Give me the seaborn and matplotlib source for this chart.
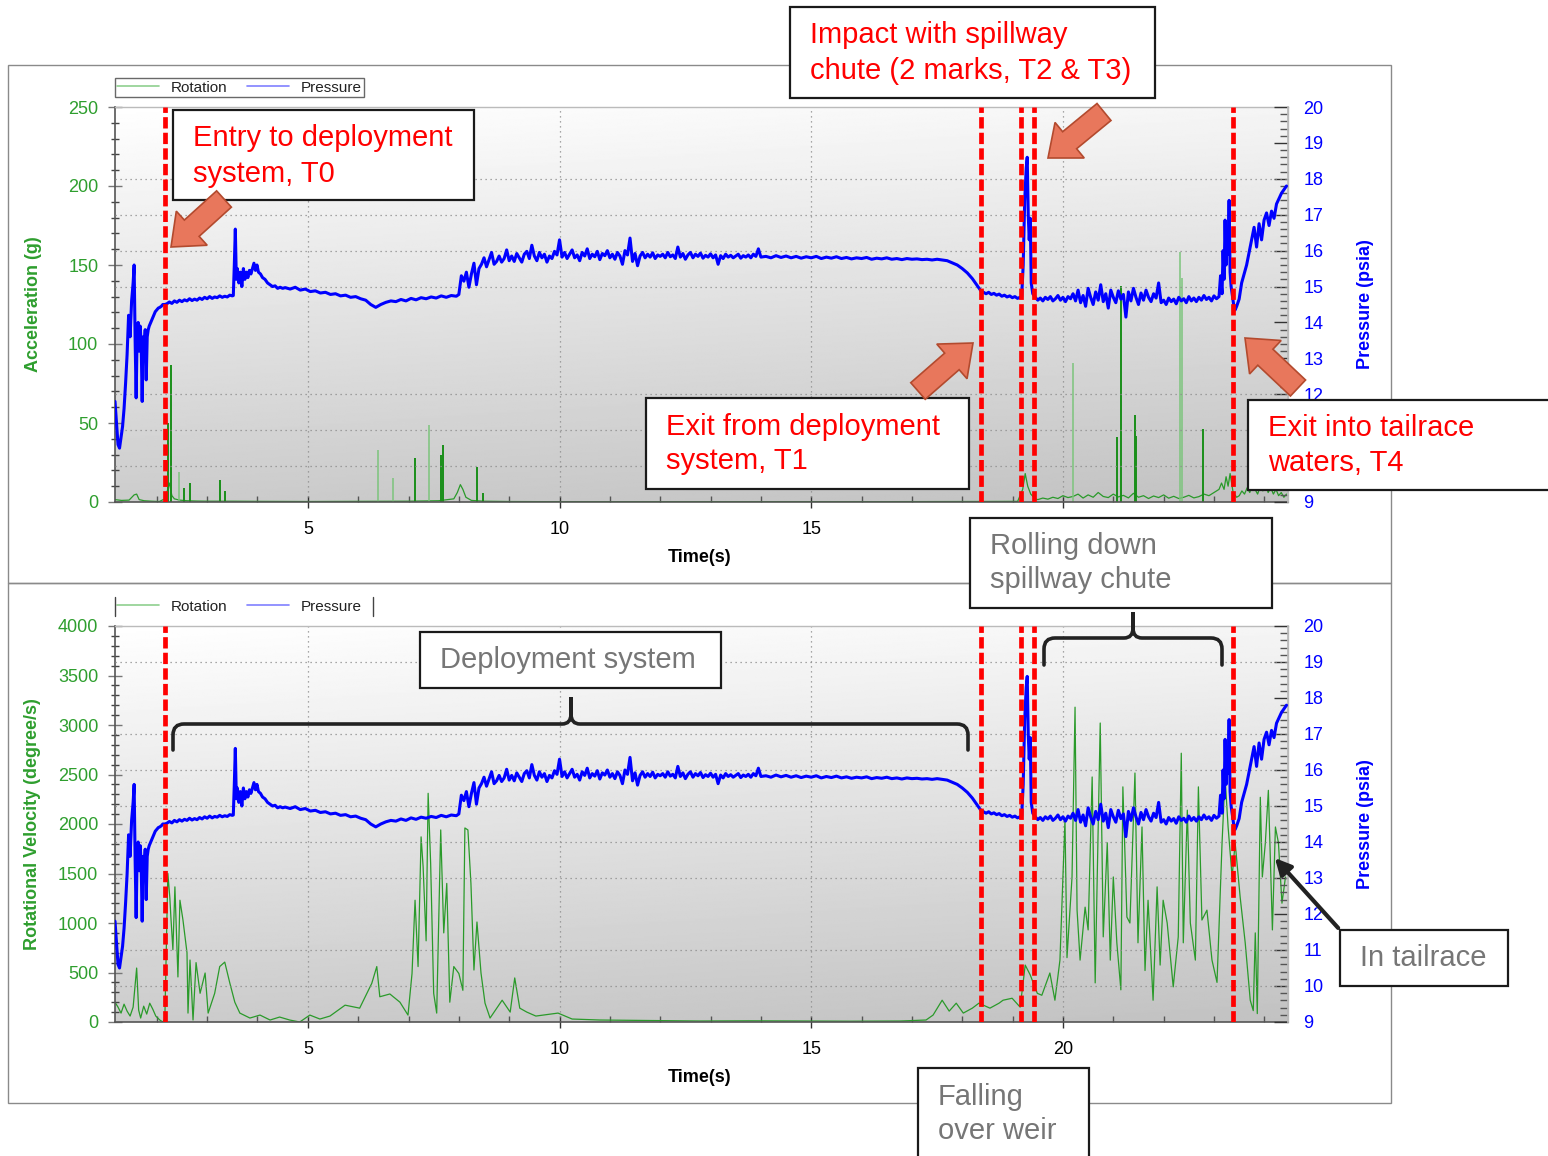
import numpy as np
import matplotlib
matplotlib.use('Agg')
import matplotlib.pyplot as plt
import seaborn as sns
from matplotlib.patches import Rectangle, FancyArrow, FancyArrowPatch, PathPatch
from matplotlib.path import Path
from matplotlib.lines import Line2D
from matplotlib.transforms import Affine2D
from matplotlib.ticker import MultipleLocator

W, H = 1548, 1156

# event marks T0, T1, T2, T3, T4 (s)
event_times = [2.16, 18.37, 19.17, 19.43, 23.37]
time_ticks = [5, 10, 15, 20]
time_range = (1.17, 24.47)

# ---- pressure (psia), shared by both panels ----
press_t_start = [1.17, 1.20, 1.23, 1.26, 1.29, 1.32, 1.35, 1.38, 1.41, 1.44, 1.47, 1.50,
                 1.53, 1.55, 1.57, 1.59, 1.61, 1.63, 1.65, 1.67, 1.69, 1.71, 1.73, 1.75,
                 1.77, 1.79, 1.81, 1.83, 1.85, 1.88, 1.91, 1.94, 1.97, 2.00, 2.03, 2.06,
                 2.09, 2.12, 2.16]
press_start = [11.8, 11.2, 10.6, 10.5, 10.8, 11.1, 11.6, 12.3, 13.1, 14.2, 13.6, 14.6,
               15.1, 15.6, 13.5, 11.9, 13.7, 14.0, 13.2, 13.9, 13.4, 11.8, 13.6, 13.3,
               13.8, 12.4, 13.6, 13.8, 13.9, 14.0, 14.1, 14.2, 14.3, 14.35, 14.4, 14.42,
               14.45, 14.5, 14.5]
press_flat1 = [14.52, 14.57, 14.53, 14.6, 14.56, 14.62, 14.58, 14.63, 14.6, 14.66, 14.61,
               14.65, 14.62, 14.68, 14.64, 14.7, 14.66, 14.72, 14.67, 14.71, 14.69, 14.74,
               14.7, 14.73, 14.71, 14.76, 14.74]
press_t_bump = [3.52, 3.54, 3.56, 3.58, 3.60, 3.63, 3.66, 3.69, 3.72, 3.75, 3.78, 3.81,
                3.84, 3.87, 3.90, 3.93, 3.96, 3.99, 4.02, 4.06, 4.10, 4.15, 4.20, 4.25,
                4.30, 4.35, 4.40, 4.45, 4.50]
press_bump = [14.75, 15.6, 16.6, 15.2, 15.5, 15.1, 15.4, 15.0, 15.5, 15.2, 15.4, 15.25,
              15.45, 15.35, 15.5, 15.65, 15.45, 15.6, 15.4, 15.35, 15.25, 15.2, 15.1, 15.05,
              15.0, 15.02, 14.95, 14.98, 14.95]
press_flat2 = [14.97, 14.93, 14.98, 14.9, 14.93, 14.86, 14.88, 14.82, 14.84, 14.78, 14.8,
               14.74, 14.76, 14.7, 14.72, 14.66, 14.62, 14.5, 14.42, 14.5, 14.56, 14.6,
               14.58, 14.64, 14.6, 14.67, 14.63, 14.69, 14.66, 14.71, 14.68, 14.74, 14.7,
               14.75, 14.73]
press_rise = [14.78, 15.30, 15.15, 15.40, 14.98, 15.35, 15.65, 15.05, 15.50, 15.62, 15.80,
              15.55, 15.75, 15.95, 15.62, 15.70, 15.85, 15.68, 15.78, 16.02, 15.72, 15.85,
              15.70, 15.92, 15.80, 15.68, 15.90, 15.98, 15.78, 16.15, 15.85, 15.72, 15.95,
              15.80, 15.90, 15.68, 15.85, 15.78, 15.98, 15.88, 16.30]
press_noisy = [15.82, 15.95, 15.78, 15.9, 16.02, 15.8, 15.88, 15.72, 15.95, 15.85, 16.05,
               15.78, 15.9, 15.83, 15.98, 15.75, 15.92, 15.86, 16.0, 15.8,
               15.9, 15.76, 15.95, 15.85, 15.62, 16.0, 15.88, 16.35, 15.7, 15.92, 15.58,
               15.85, 15.95, 15.8, 15.9, 15.82, 15.94, 15.78, 15.88, 15.84,
               15.9, 15.8, 15.95, 15.83, 15.88, 15.78, 16.1, 15.82, 15.92, 15.76, 15.88,
               15.95, 15.8, 15.9, 15.84, 15.93, 15.79, 15.87, 15.82, 15.91,
               15.8, 15.88, 15.62, 15.86, 15.78, 15.9, 15.82, 15.87, 15.8, 15.85, 15.9,
               15.79, 15.86, 15.82, 15.88, 15.8, 15.9, 15.84, 16.05, 15.82]
press_calm = [15.84, 15.8, 15.86, 15.81, 15.85, 15.8, 15.84, 15.79, 15.83, 15.8, 15.84,
              15.78, 15.82, 15.79, 15.83, 15.78, 15.81, 15.77, 15.8, 15.78, 15.81, 15.76,
              15.79, 15.77, 15.8, 15.76, 15.78, 15.75, 15.78, 15.76, 15.77, 15.75, 15.76,
              15.74, 15.76, 15.74]
press_t_drop = [17.7, 17.8, 17.9, 18.0, 18.1, 18.2, 18.3, 18.37]
press_drop = [15.72, 15.66, 15.6, 15.5, 15.38, 15.22, 15.02, 14.88]
press_chute1 = [14.84, 14.8, 14.84, 14.78, 14.81, 14.76, 14.79, 14.73, 14.76, 14.71, 14.74,
                14.69, 14.72, 14.67, 14.7]
press_t_impact = [19.18, 19.21, 19.24, 19.27, 19.29, 19.31, 19.33, 19.35, 19.37, 19.40]
press_impact = [14.72, 15.6, 17.4, 18.3, 18.6, 17.0, 16.3, 16.9, 15.1, 14.8]
press_chute2 = [14.7, 14.62, 14.68, 14.6, 14.7, 14.64, 14.72, 14.6, 14.66, 14.75, 14.62,
                14.7, 14.58, 14.72, 14.66, 14.8,
                14.6, 14.9, 14.55, 14.75, 14.45, 14.95, 14.7, 14.5, 14.85, 14.62, 15.05,
                14.58, 14.8, 14.4, 14.9, 14.7, 14.55, 14.88, 14.65, 14.78, 14.15, 14.85,
                14.6, 14.95, 14.7, 14.5, 14.82, 14.62, 14.9, 14.7, 14.58, 14.8, 14.68, 15.1,
                14.55, 14.62, 14.5, 14.68, 14.58, 14.65, 14.52, 14.7, 14.6, 14.66, 14.55,
                14.72, 14.6, 14.68, 14.58, 14.7, 14.62, 14.75, 14.64, 14.7, 14.6, 14.74,
                14.66, 14.72]
press_t_exit = [23.13, 23.16, 23.18, 23.20, 23.22, 23.24, 23.26, 23.28, 23.30, 23.32,
                23.34, 23.36, 23.39, 23.42]
press_exit = [15.3, 14.8, 16.0, 15.2, 16.85, 15.6, 16.3, 15.9, 17.4, 15.4, 15.0, 14.8,
              14.5, 14.35]
press_tailrace = [14.45, 14.65, 15.1, 15.35, 15.6, 15.95, 16.3, 16.65, 16.1, 16.75, 16.3,
                  16.85, 17.05, 16.7, 17.1, 16.9, 17.3, 17.45, 17.6, 17.7, 17.8]

# ---- acceleration (g), top panel ----
accel_t_early = [1.17, 1.3, 1.45, 1.55, 1.6, 1.65, 1.75, 1.9, 2.05, 2.16, 2.2, 2.25, 2.3,
                 2.35, 2.45, 2.6, 2.8, 3.0, 3.5, 4.0, 5.0, 6.0, 7.0, 7.6, 7.9, 7.97, 8.03,
                 8.08, 8.14, 8.25, 8.5, 9.0, 10.0, 12.0, 14.0, 16.0, 18.0, 19.1, 19.2,
                 19.25, 19.3, 19.36, 19.45]
accel_early = [1.5, 1.0, 1.2, 4.5, 5.0, 1.5, 0.8, 0.5, 0.3, 2.0, 6.0, 12.0, 4.0, 2.0, 1.2,
               0.8, 0.6, 0.5, 0.5, 0.4, 0.3, 0.4, 0.5, 0.8, 2.0, 6.0, 11.0, 8.0, 3.0, 1.0,
               0.5, 0.3, 0.2, 0.2, 0.2, 0.2, 0.3, 0.4, 8.0, 18.0, 10.0, 5.0, 2.0]
accel_chute = [1.5, 2.5, 1.8, 3.0, 2.2, 4.0, 2.8, 3.5, 5.0, 2.5, 4.5, 3.0, 6.0, 3.5, 2.8,
               5.0, 3.2, 4.2, 2.6, 5.5, 3.0, 4.0, 2.2, 3.8, 2.8, 4.5, 2.4, 3.6, 2.2, 3.0,
               4.2, 2.6, 3.4, 5.0, 4.0, 6.0, 8.0]
accel_t_exit = [23.15, 23.2, 23.24, 23.28, 23.32, 23.38]
accel_exit = [12.0, 8.0, 16.0, 10.0, 18.0, 6.0]
accel_tailrace = [3, 4, 7, 5, 9, 6, 11, 8, 5, 10, 7, 12, 6, 9, 5, 8, 4, 6, 3, 5]
accel_spike_t = [2.22, 2.28, 2.54, 2.66, 3.25, 3.35, 7.13, 7.64, 7.68, 8.36, 8.48,
                 21.08, 21.16, 21.43, 21.46, 22.78]
accel_spike_g = [50, 87, 9, 12, 14, 7, 28, 30, 36, 22, 6, 41, 137, 55, 42, 46]
accel_faint_t = [2.44, 6.39, 6.69, 7.41, 20.2, 22.33, 22.36]
accel_faint_g = [19, 33, 15, 49, 88, 158, 142]

# ---- rotational velocity (deg/s), bottom panel ----
rot_t = [1.17, 1.23, 1.29, 1.35, 1.41, 1.47, 1.53, 1.60, 1.64, 1.68, 1.74, 1.80, 1.86,
         1.92, 1.98, 2.06, 2.12, 2.16, 2.22, 2.26, 2.28, 2.32, 2.36, 2.42, 2.46, 2.52,
         2.60, 2.62, 2.66, 2.72, 2.78, 2.86, 2.96, 3.02, 3.15, 3.25, 3.35, 3.45, 3.55,
         3.65, 3.85, 4.05, 4.25, 4.44, 4.64, 4.84, 5.04, 5.24, 5.44, 5.74, 6.03, 6.27,
         6.37, 6.43, 6.63, 6.83, 6.99, 7.07, 7.13, 7.19, 7.25, 7.29, 7.35, 7.39, 7.44,
         7.50, 7.56, 7.64, 7.70, 7.76, 7.82, 7.90, 8.00, 8.08, 8.12, 8.18, 8.24, 8.30,
         8.36, 8.44, 8.52, 8.62, 8.86, 9.02, 9.11, 9.21, 9.35, 9.53, 9.97, 10.25, 10.8,
         11.8, 12.79, 13.78, 14.78, 15.77, 16.77, 17.28, 17.42, 17.60, 17.74, 17.88,
         18.02, 18.20, 18.33, 18.55, 18.73, 18.81, 18.99, 19.15, 19.25, 19.35, 19.49,
         19.58, 19.74, 19.84, 19.94, 20.04, 20.08, 20.18, 20.24, 20.28, 20.34, 20.44,
         20.50, 20.58, 20.64, 20.74, 20.80, 20.88, 20.94, 21.00, 21.07, 21.15, 21.19,
         21.27, 21.33, 21.43, 21.49, 21.57, 21.63, 21.69, 21.79, 21.87, 21.93, 21.99,
         22.07, 22.19, 22.29, 22.35, 22.39, 22.47, 22.53, 22.63, 22.69, 22.76, 22.86,
         22.96, 23.06, 23.16, 23.22, 23.28, 23.36, 23.42, 23.52, 23.62, 23.72, 23.78,
         23.82, 23.86, 23.92, 23.96, 24.02, 24.08, 24.16, 24.22, 24.28, 24.35, 24.42]
rot_dps = [200, 150, 90, 180, 110, 60, 150, 545, 120, 40, 160, 80, 190, 130, 60, 20, 0,
           30, 1500, 1250, 1060, 730, 1365, 455, 1230, 1030, 700, 90, 626, 20, 600, 290,
           495, 90, 290, 560, 605, 395, 200, 90, 40, 70, 20, 50, 20, 0, 70, 30, 60, 170,
           140, 390, 560, 255, 283, 200, 70, 490, 1230, 560, 1870, 1570, 820, 2310, 1600,
           290, 90, 1940, 900, 1400, 200, 560, 490, 320, 1960, 1940, 1400, 525, 1010, 495,
           190, 40, 220, 100, 445, 140, 100, 60, 90, 30, 20, 15, 10, 12, 10, 8, 10, 20, 70,
           220, 110, 190, 90, 140, 190, 140, 190, 220, 240, 150, 575, 475, 290, 270, 495,
           220, 625, 2040, 650, 1465, 3180, 1130, 625, 1160, 930, 2475, 395, 3020, 860,
           1810, 625, 1465, 800, 325, 2375, 1060, 1000, 2515, 800, 1970, 520, 1230, 220,
           1365, 575, 1230, 1000, 355, 860, 2715, 800, 2140, 1000, 625, 2375, 1030, 1130,
           625, 400, 1810, 2475, 1970, 1465, 1810, 1260, 800, 220, 115, 900, 85, 2270, 1465,
           1810, 2340, 930, 1970, 1810, 1200, 1465]

# grid levels on the pressure scale, as drawn in each panel
grid_top = [10, 11, 12, 15, 16, 17, 18]
grid_bottom = [10, 11, 13, 14, 15, 16, 17, 19]
# tick labels hidden behind the note boxes of the top panel
hidden_top_pressure = [10, 11]
hidden_top_time = [20]


def lin(t0, t1, vals):
    return list(np.linspace(t0, t1, len(vals)))


pressure_t = (press_t_start + lin(2.20, 3.50, press_flat1) + press_t_bump
              + lin(4.55, 7.95, press_flat2) + lin(8.0, 10.0, press_rise)
              + lin(10.05, 14.0, press_noisy) + lin(14.1, 17.6, press_calm)
              + press_t_drop + lin(18.42, 19.15, press_chute1) + press_t_impact
              + lin(19.45, 23.10, press_chute2) + press_t_exit
              + lin(23.45, 24.44, press_tailrace))
pressure = (press_start + press_flat1 + press_bump + press_flat2 + press_rise
            + press_noisy + press_calm + press_drop + press_chute1 + press_impact
            + press_chute2 + press_exit + press_tailrace)

accel_t = (accel_t_early + lin(19.5, 23.1, accel_chute) + accel_t_exit
           + lin(23.45, 24.44, accel_tailrace))
accel = accel_early + accel_chute + accel_exit + accel_tailrace

GREEN = '#2a9a2a'
GREEN_TXT = '#2e9e2e'
BLUE = '#0000ff'
RED = '#ff0000'
GRAY_TXT = '#767676'

sns.set_theme(style='white')
plt.rcParams['font.family'] = ['Liberation Sans', 'DejaVu Sans']

fig = plt.figure(figsize=(W / 100, H / 100), dpi=100)
fig.patch.set_facecolor('white')
# reference pixel coordinates (origin top-left)
PX = Affine2D().scale(1 / W, -1 / H).translate(0, 1) + fig.transFigure


def px_rect(x0, y0, x1, y1):
    return [x0 / W, 1 - y1 / H, (x1 - x0) / W, (y1 - y0) / H]


# panel frames
for y0, y1 in [(65, 583), (583, 1103)]:
    fig.add_artist(Rectangle((8, y0), 1383, y1 - y0, transform=PX, fill=False,
                             ec='#8a8a8a', lw=1.0, zorder=0.5))

gradient = np.linspace(0.80, 1.0, 256).reshape(-1, 1) - np.linspace(0, 0.04, 256)[None, :]


def make_panel(y0, y1, left_vals, left_t, left_max, left_step, left_minor, left_label,
               grid_levels, top_panel=True):
    ax = fig.add_axes(px_rect(115, y0, 1288, y1))
    ax.set_facecolor('none')
    ax.imshow(gradient, extent=[0, 1, 0, 1], transform=ax.transAxes, aspect='auto',
              cmap='gray', vmin=0, vmax=1, zorder=0, origin='lower')
    sns.lineplot(x=left_t, y=left_vals, ax=ax, color=GREEN, lw=0.9, sort=False,
                 estimator=None, zorder=2)
    if top_panel:
        ax.vlines(accel_spike_t, 0, accel_spike_g, color='#1a8f1a', lw=1.4, zorder=2)
        ax.vlines(accel_faint_t, 0, accel_faint_g, color='#7cc47c', lw=1.1, zorder=2)
    ax.set_xlim(*time_range)
    ax.set_ylim(0, left_max)
    ax.set_xticks(time_ticks)
    if top_panel:
        ax.set_xticklabels(['' if t in hidden_top_time else str(t) for t in time_ticks])
    ax.xaxis.set_minor_locator(MultipleLocator(1))
    ax.set_yticks(np.arange(0, left_max + 1, left_step))
    ax.yaxis.set_minor_locator(MultipleLocator(left_minor))
    for t in time_ticks:
        ax.axvline(t, color='#8c8c8c', lw=0.9, ls=(0, (1, 3)), zorder=1)
    ax.tick_params(axis='y', which='major', direction='inout', length=10, width=1,
                   color='#777', labelcolor=GREEN_TXT, labelsize=13, pad=7, left=True)
    ax.tick_params(axis='y', which='minor', direction='inout', length=6, width=1,
                   color='#444', left=True)
    ax.tick_params(axis='x', which='major', direction='inout', length=8, width=1,
                   color='#333', labelsize=13, pad=10, bottom=True, labelcolor='black')
    ax.tick_params(axis='x', which='minor', direction='in', length=4, width=1,
                   color='#555', bottom=True)
    ax.set_xlabel('')
    ax.set_ylabel('')
    for s in ['left', 'bottom']:
        ax.spines[s].set_color('#555')
        ax.spines[s].set_linewidth(1.2)
    for s in ['top', 'right']:
        ax.spines[s].set_color('#bbbbbb')
        ax.spines[s].set_linewidth(1.0)

    axr = ax.twinx()
    for lvl in grid_levels:
        axr.axhline(lvl, color='#8c8c8c', lw=0.9, ls=(0, (1, 3)), zorder=1)
    sns.lineplot(x=pressure_t, y=pressure, ax=axr, color=BLUE, lw=2.2, sort=False,
                 estimator=None, zorder=3)
    for t in event_times:
        axr.axvline(t, color=RED, lw=3.4, dashes=(2.4, 0.9), zorder=4)
    axr.set_ylim(9, 20)
    p_ticks = list(range(9, 21))
    axr.set_yticks(p_ticks)
    if top_panel:
        axr.set_yticklabels(['' if p in hidden_top_pressure else str(p) for p in p_ticks])
    axr.yaxis.set_minor_locator(MultipleLocator(0.2))
    axr.tick_params(axis='y', which='major', direction='in', length=10, width=1,
                    color='#333', labelcolor=BLUE, labelsize=13, pad=11, right=True)
    axr.tick_params(axis='y', which='minor', direction='in', length=6, width=1,
                    color='#555', right=True)
    axr.set_ylabel('')
    axr.spines['right'].set_color('#bbbbbb')
    for s in ['top', 'left', 'bottom']:
        axr.spines[s].set_visible(False)

    yc = (y0 + y1) / 2
    fig.text(33, yc, left_label, transform=PX, rotation=90, ha='center', va='center',
             color=GREEN_TXT, fontsize=13, fontweight='bold')
    fig.text(1366, yc, 'Pressure (psia)', transform=PX, rotation=90, ha='center',
             va='center', color=BLUE, fontsize=13, fontweight='bold')
    fig.text(700, y1 + 56, 'Time(s)', transform=PX, ha='center', va='center',
             color='black', fontsize=13, fontweight='bold')

    handles = [Line2D([], [], color='#8fcf8f', lw=1.2), Line2D([], [], color='#8080ff', lw=1.2)]
    leg = ax.legend(handles, ['Rotation', 'Pressure'], loc='lower left',
                    bbox_to_anchor=(115 / W, 1 - (y0 - 10) / H), bbox_transform=fig.transFigure,
                    ncol=2, fontsize=11, frameon=True, fancybox=False, borderpad=0.15,
                    handlelength=2.7, handletextpad=0.8, columnspacing=1.3,
                    borderaxespad=0)
    frame = leg.get_frame()
    frame.set_linewidth(1.0)
    if top_panel:
        frame.set_edgecolor('#444')
    else:
        # lower legend only shows its side rules
        frame.set_edgecolor('none')
        for xx in (115, 373):
            fig.add_artist(Line2D([xx, xx], [y0 - 29, y0 - 10], transform=PX,
                                  color='#444', lw=1.0, zorder=3))
    for txt in leg.get_texts():
        txt.set_color('#222')
    return ax, axr


make_panel(107, 502, accel, accel_t, 250, 50, 10, 'Acceleration (g)', grid_top)
make_panel(626, 1022, rot_dps, rot_t, 4000, 500, 100, 'Rotational Velocity (degree/s)',
           grid_bottom, top_panel=False)


def note(x0, y0, x1, y1, lines, color):
    fig.add_artist(Rectangle((x0, y0), x1 - x0, y1 - y0, transform=PX, fc='white',
                             ec='#1a1a1a', lw=1.6, zorder=6))
    for yy, s in lines:
        fig.text(x0 + 20, yy, s, transform=PX, ha='left', va='center', color=color,
                 fontsize=21, zorder=7)


note(790, 7, 1155, 98, [(35, 'Impact with spillway'), (71, 'chute (2 marks, T2 & T3)')], RED)
note(173, 110, 474, 200, [(138, 'Entry to deployment'), (174, 'system, T0')], RED)
note(646, 398, 969, 489, [(427, 'Exit from deployment'), (461, 'system, T1')], RED)
note(1248, 400, 1560, 490, [(428, 'Exit into tailrace'), (463, 'waters, T4')], RED)
note(970, 518, 1272, 608, [(546, 'Rolling down'), (580, 'spillway chute')], GRAY_TXT)
note(420, 632, 721, 688, [(660, 'Deployment system')], GRAY_TXT)
note(1340, 930, 1508, 986, [(958, 'In tailrace')], GRAY_TXT)
note(918, 1068, 1089, 1170, [(1097, 'Falling'), (1131, 'over weir')], GRAY_TXT)

# block arrows (tail -> tip)
for (xa, ya), (xb, yb) in [((224, 199), (171, 247)), ((1104, 112), (1048, 158)),
                           ((918, 391), (973, 343)), ((1298, 388), (1245, 338))]:
    fig.add_artist(FancyArrow(xa, ya, xb - xa, yb - ya, width=22, head_width=46,
                              head_length=28, length_includes_head=True, transform=PX,
                              fc='#e8775c', ec='#b34a2e', lw=1.2, zorder=6))

fig.add_artist(FancyArrowPatch((1340, 930), (1273, 856), transform=PX, arrowstyle='-|>',
                               mutation_scale=24, lw=3, color='#222', zorder=6))


def brace(x0, x1, y_bar, y_tip, y_end, xm):
    r = 11
    verts = [(x0, y_end), (x0, y_bar + r), (x0, y_bar), (x0 + r, y_bar),
             (xm - 9, y_bar), (xm, y_bar), (xm, y_bar - 10), (xm, y_tip),
             (xm, y_bar - 10), (xm, y_bar), (xm + 9, y_bar),
             (x1 - r, y_bar), (x1, y_bar), (x1, y_bar + r), (x1, y_end)]
    codes = [Path.MOVETO, Path.LINETO, Path.CURVE3, Path.CURVE3,
             Path.LINETO, Path.CURVE3, Path.CURVE3, Path.LINETO,
             Path.LINETO, Path.CURVE3, Path.CURVE3,
             Path.LINETO, Path.CURVE3, Path.CURVE3, Path.LINETO]
    fig.add_artist(PathPatch(Path(verts, codes), transform=PX, fill=False, ec='#222',
                             lw=2.6, capstyle='round', zorder=6))


brace(173, 968, 724, 697, 750, xm=571)
brace(1044, 1222, 638, 612, 665, xm=1133)

fig.savefig('out.png', dpi=100)
